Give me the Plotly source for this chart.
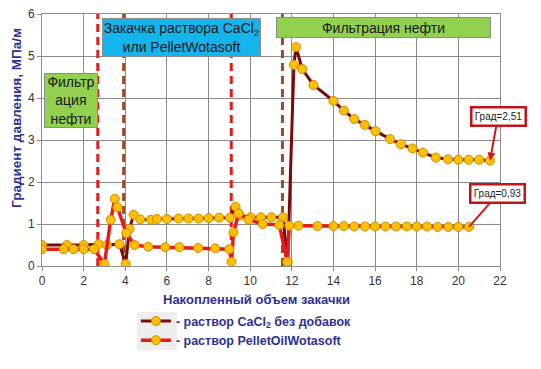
import plotly.graph_objects as go

# ---- data ----
cacl_x = [0, 1.2, 2.0, 2.72, 3.12, 3.72, 4.02, 4.2, 4.4, 4.72, 5.23, 5.52, 6.0, 6.56, 7.04,
          7.52, 8.0, 8.51, 9.02, 9.3, 9.5, 10.02, 10.51, 11.02, 11.58, 11.8, 12.1, 12.2, 12.5,
          13.04, 14.0, 14.5, 15.0, 15.5, 16.02, 16.72, 17.24, 17.8, 18.3, 18.92, 19.5, 20.0,
          20.5, 21.0, 21.52]
cacl_y = [0.5, 0.5, 0.5, 0.52, 0.5, 0.52, 0.05, 0.88, 1.22, 1.11, 1.1, 1.12, 1.12, 1.13, 1.13,
          1.13, 1.14, 1.15, 1.15, 1.41, 1.2, 1.16, 1.16, 1.16, 1.16, 0.1, 4.79, 5.21, 4.69,
          4.31, 3.93, 3.7, 3.5, 3.36, 3.21, 3.02, 2.9, 2.8, 2.7, 2.58, 2.54, 2.53,
          2.53, 2.53, 2.51]

pellet_x = [0, 1.04, 1.52, 2.0, 2.5, 3.0, 3.3, 3.5, 3.62, 4.05, 4.45, 5.1, 5.92, 6.6, 7.5,
            8.32, 9.0, 9.1, 9.2, 9.45, 9.92, 10.6, 11.4, 11.78, 11.88, 12.32, 13.23, 14.0,
            14.5, 15.0, 15.52, 16.0, 16.5, 17.0, 17.52, 18.0, 18.5, 19.0, 19.52, 20.0, 20.51]
pellet_y = [0.4, 0.4, 0.4, 0.4, 0.4, 0.05, 1.1, 1.6, 1.4, 0.78, 0.5, 0.46, 0.45, 0.45, 0.43,
            0.42, 0.4, 0.1, 0.8, 1.25, 1.1, 1.0, 0.98, 0.1, 0.96, 0.96, 0.95, 0.95,
            0.95, 0.94, 0.94, 0.94, 0.94, 0.94, 0.94, 0.94, 0.94, 0.93, 0.93, 0.93, 0.93]

red_dash_x = [2.68, 9.09]
brown_dash_x = [3.92, 11.55]

series_names = ["<b>- раствор CaCl<sub>2</sub> без добавок</b>", "<b>- раствор PelletOilWotasoft</b>"]
x_title = "Накопленный объем закачки"
y_title = "Градиент давления, МПа/м"

FONT = "Liberation Sans, Arial, sans-serif"
NAVY = "#2E3192"
MARKER = dict(symbol="circle", size=9, color="#FFC000", line=dict(color="#D08A00", width=1))

fig = go.Figure()
fig.add_trace(go.Scatter(x=cacl_x, y=cacl_y, mode="lines+markers", name=series_names[0],
                         line=dict(color="#7A0A0A", width=3), marker=MARKER))
fig.add_trace(go.Scatter(x=pellet_x, y=pellet_y, mode="lines+markers", name=series_names[1],
                         line=dict(color="#E31B1B", width=3.5), marker=MARKER))

shapes = []
for xv in red_dash_x:
    shapes.append(dict(type="line", xref="x", yref="y", x0=xv, x1=xv, y0=0, y1=6,
                       line=dict(color="#E31B1B", width=3, dash="8px,5px"), layer="between"))
for xv in brown_dash_x:
    shapes.append(dict(type="line", xref="x", yref="y", x0=xv, x1=xv, y0=0, y1=6,
                       line=dict(color="#9B4A2A", width=3, dash="8px,5px"), layer="between"))
# grey area behind legend symbols
shapes.append(dict(type="rect", xref="paper", yref="paper", x0=0.2074, x1=0.2948,
                   y0=-0.333, y1=-0.1825, fillcolor="#EEEEEE", line=dict(width=0), layer="below"))

annotations = [
    dict(x=1.4, y=3.94, xref="x", yref="y", text="Фильтр<br>ация<br>нефти", showarrow=False,
         bgcolor="#92D050", bordercolor="#8C8C8C", borderwidth=1, width=50, height=51,
         font=dict(family=FONT, size=14, color="#1A1A1A")),
    dict(x=6.72, y=5.45, xref="x", yref="y",
         text="Закачка раствора CaCl<sub>2</sub><br>или PelletWotasoft", showarrow=False,
         bgcolor="#14B4EC", bordercolor="#8C8C8C", borderwidth=1, width=155, height=35,
         font=dict(family=FONT, size=14, color="#1A1A1A")),
    dict(x=16.41, y=5.67, xref="x", yref="y", text="Фильтрация нефти", showarrow=False,
         bgcolor="#92D050", bordercolor="#8C8C8C", borderwidth=1, width=211, height=17,
         font=dict(family=FONT, size=14, color="#1A1A1A")),
    dict(x=21.52, y=2.51, xref="x", yref="y", text="Град=2,51", showarrow=True,
         ax=8, ay=-44, arrowhead=2, arrowsize=0.8, arrowwidth=2, arrowcolor="#D01818",
         bgcolor="white", bordercolor="#C01418", borderwidth=2.5, width=50, height=14,
         font=dict(family=FONT, size=10, color="#222222")),
    dict(x=20.51, y=0.93, xref="x", yref="y", text="Град=0,93", showarrow=True,
         ax=29, ay=-33, arrowhead=0, arrowwidth=2, arrowcolor="#D01818",
         bgcolor="white", bordercolor="#C01418", borderwidth=2.5, width=50, height=14,
         font=dict(family=FONT, size=10, color="#222222")),
    dict(x=0.469, y=-0.131, xref="paper", yref="paper", text="<b>" + x_title + "</b>",
         xanchor="center", yanchor="middle",
         showarrow=False, font=dict(family=FONT, size=13, color=NAVY)),
    dict(x=-0.057, y=0.587, xref="paper", yref="paper", text="<b>" + y_title + "</b>",
         xanchor="center", yanchor="middle", borderpad=0,
         showarrow=False, textangle=-90, font=dict(family=FONT, size=13.5, color=NAVY)),
]

axis_common = dict(showgrid=True, gridcolor="#8C8C8C", gridwidth=1, showline=True,
                   linecolor="#8C8C8C", linewidth=1, mirror=True, zeroline=False,
                   ticks="outside", ticklen=4, tickcolor="#8C8C8C", ticklabeloverflow="allow",
                   tickfont=dict(family=FONT, size=12, color="#333333"))

# the page body adds an 8px offset; figure is sized so that it fills the window exactly
fig.update_layout(
    width=533, height=361,
    margin=dict(l=34, r=41, t=6, b=103, autoexpand=False),
    paper_bgcolor="white", plot_bgcolor="white",
    xaxis=dict(range=[0, 22], dtick=2, **axis_common),
    yaxis=dict(range=[0, 6], dtick=1, **axis_common),
    shapes=shapes, annotations=annotations,
    showlegend=True,
    legend=dict(x=0.205, y=-0.16, xanchor="left", yanchor="top",
                bgcolor="rgba(0,0,0,0)", font=dict(family=FONT, size=12.5, color=NAVY),
                tracegroupgap=0, itemwidth=30),
    font=dict(family=FONT),
)

fig.write_html("out.html")
